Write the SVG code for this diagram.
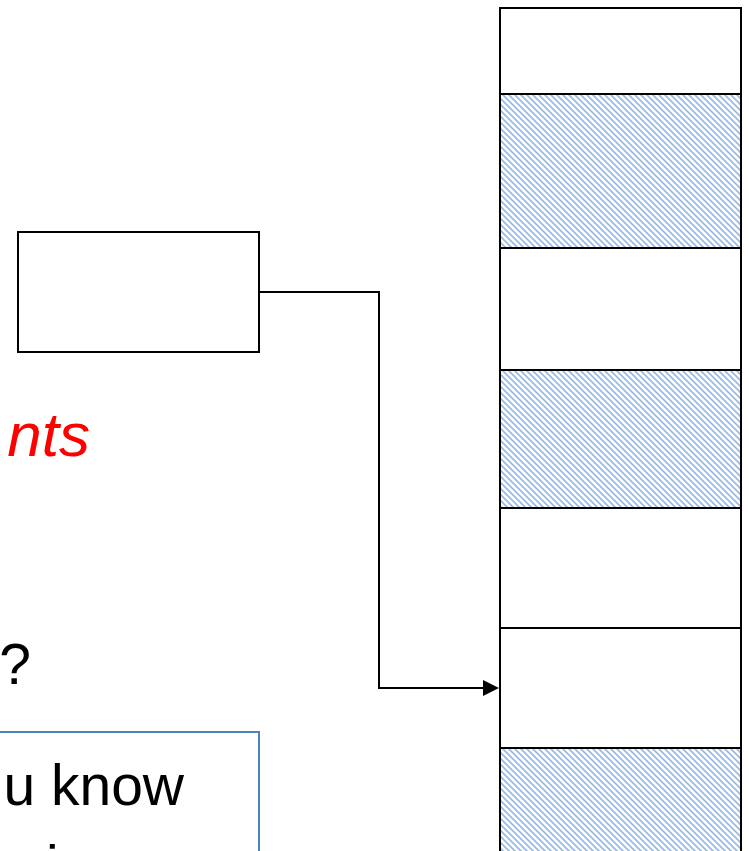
<svg xmlns="http://www.w3.org/2000/svg" width="749" height="851" viewBox="0 0 749 851">
  <style>
    .box { fill: #ffffff; stroke: #000000; stroke-width: 2; }
    .hatch { fill: url(#diag); stroke: #000000; stroke-width: 2; }
    .conn { fill: none; stroke: #000000; stroke-width: 2; }
    .txt { font-family: "Liberation Sans", Arial, sans-serif; font-size: 57px; fill: #000000; }
    .red { font-family: "Liberation Sans", Arial, sans-serif; font-size: 62px; font-style: italic; fill: #ff0000; }
  </style>
  <defs>
    <pattern id="diag" patternUnits="userSpaceOnUse" width="6" height="6">
      <rect width="6" height="6" fill="#ffffff"/>
      <path d="M0,0 L6,6 M-1,5 L1,7 M5,-1 L7,1" stroke="#94b8e8" stroke-width="1.6"/>
    </pattern>
  </defs>

  <rect width="749" height="851" fill="#ffffff"/>

  <g id="memory-column">
    <rect class="box" x="500" y="8" width="241" height="86"/>
    <rect class="hatch" x="500" y="94" width="241" height="154"/>
    <rect class="box" x="500" y="248" width="241" height="122"/>
    <rect class="hatch" x="500" y="370" width="241" height="138"/>
    <rect class="box" x="500" y="508" width="241" height="120"/>
    <rect class="box" x="500" y="628" width="241" height="120"/>
    <rect class="hatch" x="500" y="748" width="241" height="110"/>
  </g>

  <g id="pointer-box">
    <rect class="box" x="18" y="232" width="241" height="120"/>
  </g>

  <g id="connectors">
    <path class="conn" d="M259,292 H379 V688 H484"/>
    <path d="M483,680 L499,688 L483,696 Z" fill="#000000"/>
  </g>

  <g id="texts">
    <text class="red" x="90" y="456" text-anchor="end">nts</text>
    <text class="txt" x="31" y="684" text-anchor="end">?</text>
  </g>

  <g id="note-box">
    <rect x="-10" y="732" width="269" height="140" fill="none" stroke="#4f81bd" stroke-width="2"/>
    <text class="txt" x="184" y="805" text-anchor="end">u know</text>
    <text class="txt" x="46" y="886">i</text>
  </g>
</svg>
